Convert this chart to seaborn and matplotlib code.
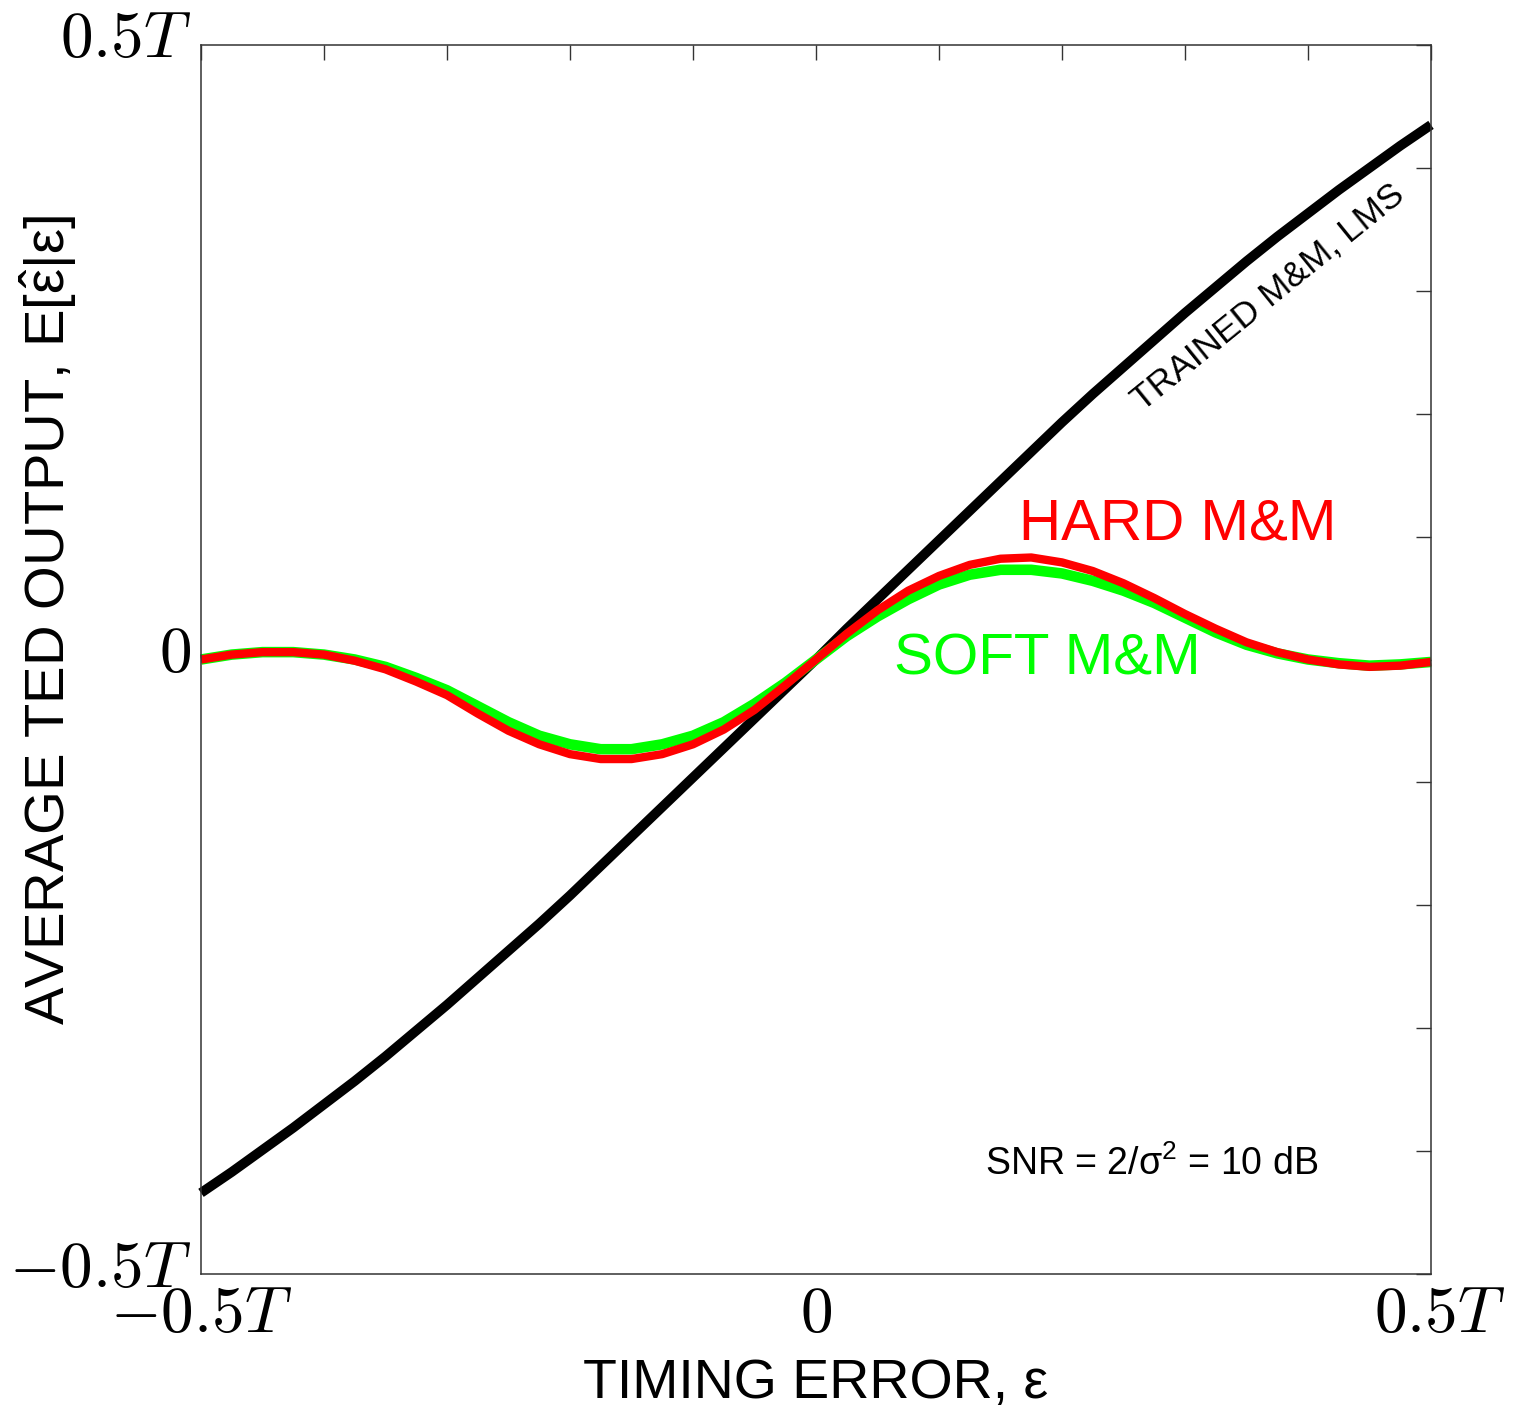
import matplotlib
matplotlib.use("Agg")
import matplotlib.pyplot as plt
import matplotlib.transforms as mtransforms
import pandas as pd
import seaborn as sns
from matplotlib.ticker import FixedLocator, FixedFormatter

# ---- data ----
timing_error = [-0.500, -0.475, -0.450, -0.425, -0.400, -0.375, -0.350, -0.325, -0.300, -0.275,
                -0.250, -0.225, -0.200, -0.175, -0.150, -0.125, -0.100, -0.075, -0.050, -0.025,
                0.000, 0.025, 0.050, 0.075, 0.100, 0.125, 0.150, 0.175, 0.200, 0.225,
                0.250, 0.275, 0.300, 0.325, 0.350, 0.375, 0.400, 0.425, 0.450, 0.475, 0.500]
ted_trained = [-0.434, -0.417, -0.399, -0.381, -0.362, -0.343, -0.323, -0.302, -0.281, -0.259,
               -0.237, -0.215, -0.192, -0.168, -0.144, -0.120, -0.096, -0.072, -0.048, -0.024,
               0.000, 0.025, 0.049, 0.073, 0.097, 0.121, 0.145, 0.169, 0.193, 0.216,
               0.238, 0.260, 0.282, 0.303, 0.324, 0.344, 0.363, 0.382, 0.400, 0.418, 0.435]
ted_hard = [0.000, 0.004, 0.006, 0.006, 0.004, -0.001, -0.008, -0.018, -0.029, -0.044,
            -0.058, -0.069, -0.077, -0.081, -0.081, -0.077, -0.069, -0.057, -0.041, -0.021,
            0.000, 0.021, 0.040, 0.056, 0.068, 0.077, 0.082, 0.083, 0.079, 0.072,
            0.062, 0.050, 0.037, 0.025, 0.014, 0.006, 0.000, -0.004, -0.006, -0.005, -0.002]
ted_soft = [0.000, 0.004, 0.006, 0.006, 0.004, 0.000, -0.006, -0.015, -0.025, -0.038,
            -0.051, -0.062, -0.069, -0.073, -0.073, -0.069, -0.062, -0.051, -0.036, -0.019,
            0.000, 0.019, 0.035, 0.049, 0.061, 0.069, 0.073, 0.073, 0.070, 0.064,
            0.056, 0.046, 0.034, 0.022, 0.012, 0.005, 0.000, -0.003, -0.005, -0.004, -0.002]

tick_positions = [-0.5, -0.4, -0.3, -0.2, -0.1, 0.0, 0.1, 0.2, 0.3, 0.4, 0.5]
tick_labels = [r"$-0.5T$", "", "", "", "", r"$0$", "", "", "", "", r"$0.5T$"]

# ---- style ----
sns.set_theme(style="white")
plt.rcParams['font.family'] = ['Liberation Sans', 'DejaVu Sans']
plt.rcParams['mathtext.fontset'] = 'cm'
plt.rcParams['mathtext.rm'] = 'Liberation Sans'
plt.rcParams['mathtext.it'] = 'Liberation Sans:italic'
plt.rcParams['mathtext.bf'] = 'Liberation Sans:bold'
plt.rcParams['mathtext.sf'] = 'Liberation Sans'
plt.rcParams['axes.unicode_minus'] = True

W, H = 1514, 1407
fig = plt.figure(figsize=(W / 100, H / 100), dpi=100)
fig.patch.set_facecolor('white')
ax = fig.add_axes([201 / W, (H - 1274) / H, 1230 / W, 1229 / H])
ax.set_facecolor('white')

df = pd.DataFrame({'x': timing_error, 'trained': ted_trained,
                   'hard': ted_hard, 'soft': ted_soft})

sns.lineplot(data=df, x='x', y='trained', color='black', linewidth=7.0,
             sort=False, estimator=None, ax=ax)
sns.lineplot(data=df, x='x', y='soft', color='#00ff00', linewidth=7.6,
             sort=False, estimator=None, ax=ax)
sns.lineplot(data=df, x='x', y='hard', color='#ff0000', linewidth=6.0,
             sort=False, estimator=None, ax=ax)
for ln in ax.get_lines():
    ln.set_solid_capstyle('butt')
    ln.set_solid_joinstyle('round')
    ln.set_clip_on(False)

ax.set_xlim(-0.5, 0.5)
ax.set_ylim(-0.5, 0.5)

for axis in (ax.xaxis, ax.yaxis):
    axis.set_major_locator(FixedLocator(tick_positions))
    axis.set_major_formatter(FixedFormatter(tick_labels))
ax.tick_params(axis='both', which='major', direction='in', length=10.5, width=1.0,
               color='#333333', top=True, right=True, labelsize=47, pad=7,
               labelcolor='black')
ax.tick_params(axis='x', pad=8)

# nudge the y tick labels up slightly
offset_y = mtransforms.ScaledTranslation(0, 11 / 100, fig.dpi_scale_trans)
for tick in ax.yaxis.get_major_ticks():
    tick.label1.set_transform(tick.label1.get_transform() + offset_y)
# the right-most x tick label sits a little to the right in the reference
offset_x = mtransforms.ScaledTranslation(9 / 100, 0, fig.dpi_scale_trans)
last_xtick = ax.xaxis.get_major_ticks()[-1]
last_xtick.label1.set_transform(last_xtick.label1.get_transform() + offset_x)

for sp in ax.spines.values():
    sp.set_visible(True)
    sp.set_color('#333333')
    sp.set_linewidth(1.1)

ax.set_xlabel("TIMING ERROR, ε", fontsize=40, color='black', va='baseline')
ax.xaxis.set_label_coords(0.5, -(1398 - 1274) / 1229)
ax.set_ylabel("AVERAGE TED OUTPUT, E[$\\hat{\\mathrm{\\varepsilon}}$|ε]", fontsize=40.5,
              color='black', va='baseline', math_fontfamily='custom')
ax.yaxis.set_label_coords((65 - 201) / 1230, (1274 - 620) / 1229)

ax.text(0.3675, 0.2946, "TRAINED M&M, LMS", fontsize=25.5, color='black',
        rotation=39, rotation_mode='anchor', ha='center', va='center')
ax.text(0.2943, 0.1098, "HARD M&M", fontsize=42, color='#ff0000',
        ha='center', va='center')
ax.text(0.1878, 0.0000, "SOFT M&M", fontsize=42, color='#00ff00',
        ha='center', va='center')
ax.text(0.2732, -0.4105, "SNR = 2/$\\mathrm{σ}^{2}$ = 10 dB", fontsize=27, color='black',
        ha='center', va='center', math_fontfamily='custom')

fig.savefig("out.png", dpi=100, facecolor='white')
